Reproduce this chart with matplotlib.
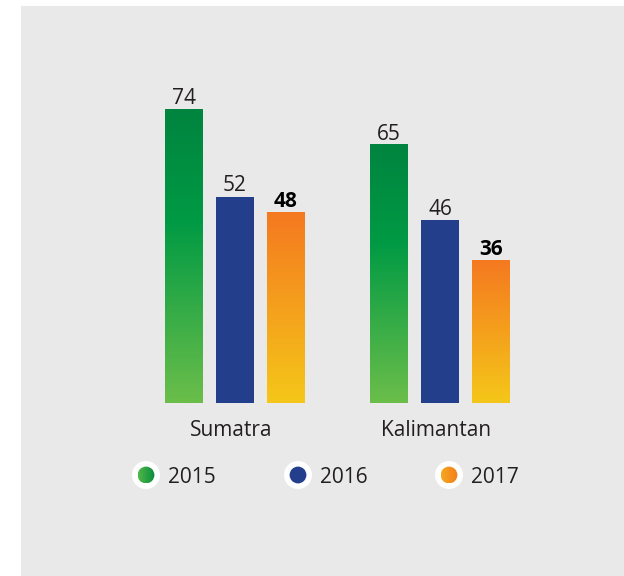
import matplotlib
matplotlib.use('Agg')
import matplotlib.pyplot as plt
import numpy as np
from matplotlib.colors import LinearSegmentedColormap
from matplotlib.patches import Rectangle, Circle

# data
regions = ['Sumatra', 'Kalimantan']
years = ['2015', '2016', '2017']
values_2015 = [74, 65]
values_2016 = [52, 46]
values_2017 = [48, 36]

plt.rcParams['font.family'] = ['Open Sans', 'DejaVu Sans']

text_col = '#231F20'
blue = '#233E8B'
green_bar = LinearSegmentedColormap.from_list('gbar', [(0, '#6BBE4A'), (0.62, '#009A44'), (1, '#00843F')])
orange_bar = LinearSegmentedColormap.from_list('obar', ['#F5C719', '#F47920'])
green_dot = LinearSegmentedColormap.from_list('gdot', ['#52B848', '#078C3F'])
orange_dot = LinearSegmentedColormap.from_list('odot', ['#F5A91C', '#F47B20'])

W, H = 624, 576
fig = plt.figure(figsize=(W / 100, H / 100), dpi=100)
fig.patch.set_facecolor('white')
# grey panel (behind the axes)
fig.patches.append(Rectangle((21 / W, 0), 1, 570 / H, transform=fig.transFigure,
                             facecolor='#E9E9E9', edgecolor='none', zorder=-1))

ax = fig.add_axes([21 / W, 173 / H, 603 / W, 397 / H])
ax.set_facecolor('none')

x = np.arange(len(regions))
width = 0.185
step = 0.249
grad = np.linspace(0, 1, 256).reshape(-1, 1)

series = [
    (values_2015, -step, green_bar, False),
    (values_2016, 0, blue, False),
    (values_2017, step, orange_bar, True),
]

for vals, off, fill, bold in series:
    if isinstance(fill, str):
        bars = ax.bar(x + off, vals, width, color=fill, zorder=2)
    else:
        bars = ax.bar(x + off, vals, width, color='none', zorder=2)
        for b in bars:
            ax.imshow(grad, cmap=fill, origin='lower', aspect='auto', zorder=2,
                      extent=(b.get_x(), b.get_x() + b.get_width(), 0, b.get_height()))
    for b, v in zip(bars, vals):
        ax.text(b.get_x() + b.get_width() / 2, v + 1.3, str(v), ha='center', va='baseline',
                fontsize=15, color='black' if bold else text_col,
                fontweight='bold' if bold else 'normal')

for xi, name in zip(x, regions):
    ax.text(xi - 0.02, -8.4, name, ha='center', va='baseline', fontsize=15, color=text_col, clip_on=False)

ax.set_xlim(-1.044, 1.898)
ax.set_ylim(0, 100)
ax.axis('off')

# legend with ringed dots
legend_fills = [green_dot, blue, orange_dot]
dot_x = [146, 298, 449]
dot_y = 475
for cx, yr, fill in zip(dot_x, years, legend_fills):
    la = fig.add_axes([(cx - 14) / W, (H - dot_y - 14) / H, 28 / W, 28 / H])
    la.set_facecolor('none')
    la.add_patch(Circle((0, 0), 1.0, facecolor='white', edgecolor='none', zorder=1))
    inner = Circle((0, 0), 0.6, facecolor=fill if isinstance(fill, str) else 'none',
                   edgecolor='none', zorder=2)
    la.add_patch(inner)
    if not isinstance(fill, str):
        img = la.imshow(np.linspace(0, 1, 256).reshape(1, -1), cmap=fill, zorder=3,
                        extent=(-0.6, 0.6, -0.6, 0.6), aspect='auto')
        img.set_clip_path(inner)
    la.set_xlim(-1, 1)
    la.set_ylim(-1, 1)
    la.axis('off')
    fig.text((cx + 22) / W, (H - 483) / H, yr, fontsize=15, color=text_col,
             ha='left', va='baseline')

fig.savefig('out.png', dpi=100)
